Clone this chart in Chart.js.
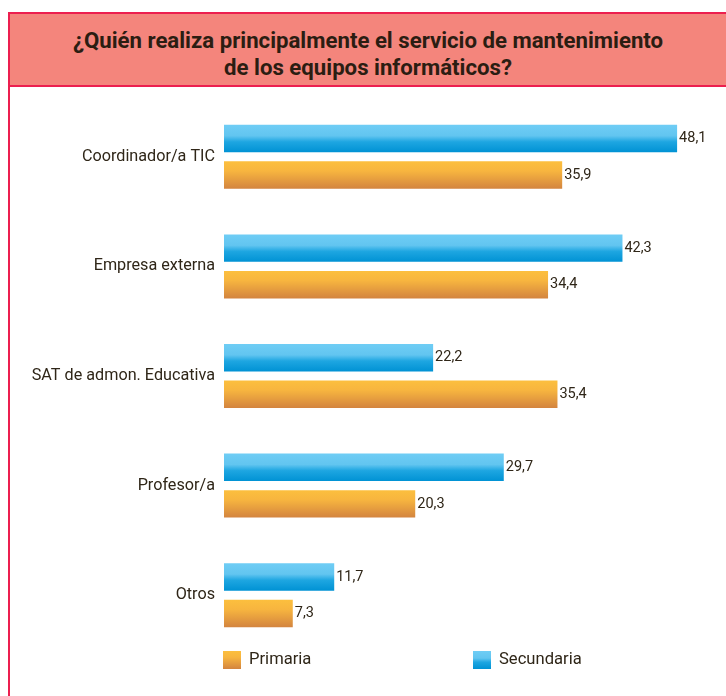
<!DOCTYPE html>
<html>
<head>
<meta charset="utf-8">
<script src="https://cdn.jsdelivr.net/npm/chart.js@4"></script>
<style>
  html, body { margin: 0; padding: 0; background: #fff; }
  #wrap { position: relative; width: 726px; height: 696px; overflow: hidden; }
  #chart { position: absolute; left: 0; top: 0; }
  #header {
    position: absolute; left: 8px; top: 12px; width: 730px; height: 71px;
    background: #f4857c; border-top: 2px solid #ec1f4f; border-bottom: 2px solid #ec1f4f;
  }
  #header h1 {
    margin: 0; padding-top: 13px; padding-right: 10px; text-align: center;
    font: bold 22.2px 'Roboto', sans-serif; line-height: 26.5px;
    color: #2b1d12;
  }
  #leftline { position: absolute; left: 8px; top: 12px; width: 2px; height: 690px; background: #ec1f4f; }
</style>
</head>
<body>
<div id="wrap">
  <canvas id="chart" width="726" height="696"></canvas>
  <div id="header"><h1>¿Quién realiza principalmente el servicio de mantenimiento<br>de los equipos informáticos?</h1></div>
  <div id="leftline"></div>
</div>
<script>
// values
var categories = ['Coordinador/a TIC', 'Empresa externa', 'SAT de admon. Educativa', 'Profesor/a', 'Otros'];
var secundaria = [48.1, 42.3, 22.2, 29.7, 11.7];
var primaria = [35.9, 34.4, 35.4, 20.3, 7.3];

var FONT = "'Roboto', sans-serif";
var TEXT = '#2f2618';

function blueGrad(ctx, top, bottom) {
    var g = ctx.createLinearGradient(0, top, 0, bottom);
    g.addColorStop(0, '#6fcdf5');
    g.addColorStop(0.4, '#62c5f0');
    g.addColorStop(0.62, '#1ea6e1');
    g.addColorStop(1, '#0092d4');
    return g;
}
function orangeGrad(ctx, top, bottom) {
    var g = ctx.createLinearGradient(0, top, 0, bottom);
    g.addColorStop(0, '#fcbf3e');
    g.addColorStop(0.35, '#f7b53f');
    g.addColorStop(1, '#d3843f');
    return g;
}

// vertical gradient on every bar
var gradientBars = {
    id: 'gradientBars',
    beforeDatasetsDraw(chart) {
        chart.data.datasets.forEach((ds, i) => {
            chart.getDatasetMeta(i).data.forEach(el => {
                var top = el.y - el.height / 2, bottom = el.y + el.height / 2;
                el.options = Object.assign({}, el.options, {
                    backgroundColor: ds.gradient(chart.ctx, top, bottom)
                });
            });
        });
    }
};

// value next to the end of each bar, with a decimal comma
var valueLabels = {
    id: 'valueLabels',
    afterDatasetsDraw(chart) {
        var ctx = chart.ctx;
        ctx.save();
        ctx.font = '14.5px ' + FONT;
        ctx.fillStyle = TEXT;
        ctx.textBaseline = 'middle';
        ctx.textAlign = 'left';
        chart.data.datasets.forEach((ds, i) => {
            chart.getDatasetMeta(i).data.forEach((el, j) => {
                ctx.fillText(ds.data[j].toFixed(1).replace('.', ','), el.x + 2, el.y);
            });
        });
        ctx.restore();
    }
};

// legend under the plot: Primaria first, then Secundaria
var bottomLegend = {
    id: 'bottomLegend',
    afterDraw(chart) {
        var ctx = chart.ctx, area = chart.chartArea;
        var items = chart.data.datasets.slice().reverse();
        var offsets = [-1, 249];
        ctx.save();
        ctx.font = '16.6px ' + FONT;
        ctx.textBaseline = 'middle';
        items.forEach((ds, k) => {
            var x = area.left + offsets[k], top = area.bottom + 1;
            ctx.fillStyle = ds.gradient(ctx, top, top + 18);
            ctx.fillRect(x, top, 18, 18);
            ctx.fillStyle = TEXT;
            ctx.fillText(ds.label, x + 26, top + 9);
        });
        ctx.restore();
    }
};

new Chart(document.getElementById('chart'), {
    type: 'bar',
    data: {
        labels: categories,
        datasets: [
            { label: 'Secundaria', data: secundaria, gradient: blueGrad, backgroundColor: '#29a9e1' },
            { label: 'Primaria', data: primaria, gradient: orangeGrad, backgroundColor: '#eaa33f' }
        ]
    },
    options: {
        indexAxis: 'y',
        responsive: false,
        animation: false,
        categoryPercentage: 0.667,
        barPercentage: 0.75,
        layout: { padding: { top: 102, bottom: 46, left: 0, right: 31 } },
        scales: {
            x: { display: false, min: 0, max: 50 },
            y: {
                grid: { display: false, drawTicks: false },
                border: { display: false },
                ticks: { padding: 9, color: TEXT, font: { family: FONT, size: 16.2 } },
                afterFit(scale) { scale.width = 224; }
            }
        },
        plugins: {
            legend: { display: false },
            tooltip: { enabled: false }
        }
    },
    plugins: [gradientBars, valueLabels, bottomLegend]
});
</script>
</body>
</html>
